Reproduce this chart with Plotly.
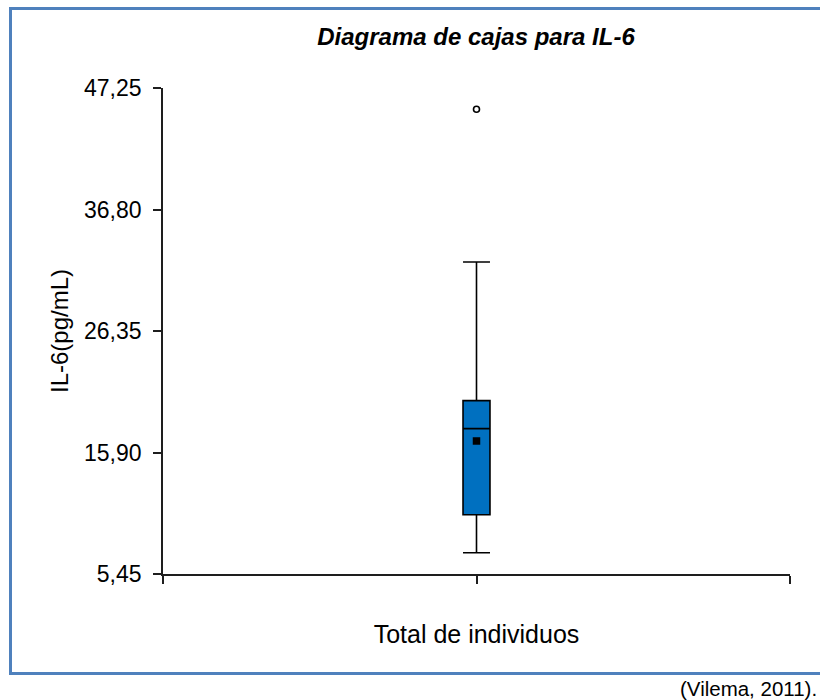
import plotly.graph_objects as go

# Summary statistics of IL-6 (pg/mL) for the whole sample
group = ["Total de individuos"]
lower_whisker = [7.28]
q1 = [10.55]
median = [17.95]
q3 = [20.36]
upper_whisker = [32.28]
mean = [16.89]
outliers = [45.42]

# Axis ticks
y_ticks = [5.45, 15.90, 26.35, 36.80, 47.25]
x_pos = [1]

FONT = "Liberation Sans, Arial, sans-serif"
AXIS_COLOR = "#1e1e1e"
BORDER = "#4F81BD"

fig = go.Figure()

fig.add_trace(go.Box(
    x=x_pos,
    q1=q1, median=median, q3=q3,
    lowerfence=lower_whisker, upperfence=upper_whisker,
    width=0.086,
    whiskerwidth=1,
    fillcolor="#0070C0",
    line=dict(color="black", width=1.6),
    boxpoints=False,
    showlegend=False,
    hoverinfo="skip",
))

# mean marker
fig.add_trace(go.Scatter(
    x=x_pos, y=mean, mode="markers",
    marker=dict(symbol="square", size=7.5, color="black"),
    showlegend=False, hoverinfo="skip",
))

# outlier
fig.add_trace(go.Scatter(
    x=x_pos * len(outliers), y=outliers, mode="markers",
    marker=dict(symbol="circle-open", size=6, color="black", line=dict(width=1.6)),
    showlegend=False, hoverinfo="skip",
))

fig.update_layout(
    width=820, height=700,
    margin=dict(l=163, r=30, t=88, b=126),
    paper_bgcolor="white", plot_bgcolor="white",
    separators=",.",
    font=dict(family=FONT, color="black"),
    title=dict(
        text="Diagrama de cajas para IL-6",
        font=dict(family=FONT, size=24, weight="bold", style="italic", color="black"),
        x=(476 - 163) / 627, xref="paper", xanchor="center",
        y=1 - 37 / 700, yref="container", yanchor="middle",
    ),
    xaxis=dict(
        range=[0, 2],
        tickvals=[0, 1, 2], ticktext=["", "", ""],
        ticks="outside", ticklen=8, tickwidth=1.6, tickcolor=AXIS_COLOR,
        showline=True, linecolor=AXIS_COLOR, linewidth=1.6,
        showgrid=False, zeroline=False,
        title=dict(text=group[0], font=dict(family=FONT, size=25), standoff=40),
        automargin=False,
    ),
    yaxis=dict(
        range=[y_ticks[0] - 1e-6, y_ticks[-1] + 1e-6],
        tickvals=y_ticks, tickformat=".2f",
        ticks="outside", ticklen=8, tickwidth=1.6, tickcolor=AXIS_COLOR,
        tickfont=dict(family=FONT, size=23),
        ticklabelstandoff=7,
        showline=True, linecolor=AXIS_COLOR, linewidth=1.6,
        showgrid=False, zeroline=False,
        title=dict(text="IL-6(pg/mL)", font=dict(family=FONT, size=24), standoff=9),
        automargin=False,
    ),
)

# blue frame around the figure
def px_x(px):
    return (px - 163) / 627

def px_y(py):
    return (574 - py) / 486

frame = dict(type="line", xref="paper", yref="paper", line=dict(color=BORDER, width=3))
fig.add_shape(**frame, x0=px_x(9), x1=px_x(822), y0=px_y(8.5), y1=px_y(8.5))
fig.add_shape(**frame, x0=px_x(10.5), x1=px_x(10.5), y0=px_y(7), y1=px_y(674.5))
fig.add_shape(**frame, x0=px_x(9), x1=px_x(822), y0=px_y(673.5), y1=px_y(673.5))

fig.add_annotation(
    text="(Vilema, 2011).", xref="paper", yref="paper",
    x=px_x(819), y=px_y(688), xanchor="right", yanchor="middle",
    showarrow=False, font=dict(family=FONT, size=20.5, color="black"),
)

fig.write_html("out.html")
